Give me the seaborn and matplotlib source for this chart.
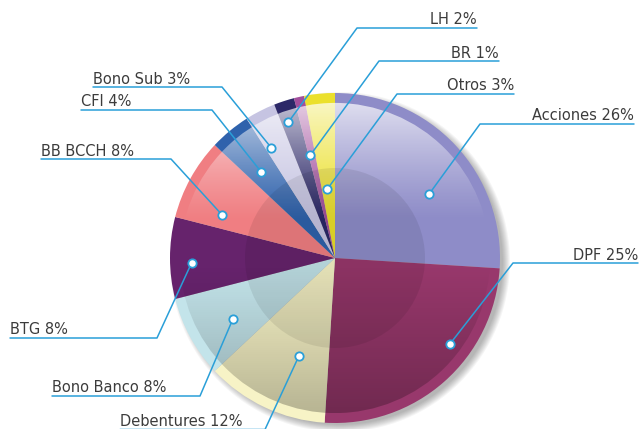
import numpy as np
import seaborn as sns
from matplotlib import pyplot as plt
from matplotlib.patches import Circle

# data
labels = ["Acciones", "DPF", "Debentures", "Bono Banco", "BTG", "BB BCCH",
          "CFI", "Bono Sub", "LH", "BR", "Otros"]
shares = [26, 25, 12, 8, 8, 8, 4, 3, 2, 1, 3]
colors = ["#8e8cc8", "#98386c", "#f7f3c6", "#c3e4ea", "#66236c", "#f07e82",
          "#2f62ac", "#c6c4e2", "#2c2868", "#a24e9c", "#ebe02c"]

# layout (image pixels): marker angle shift, marker radius fraction,
# underline y, underline start x, underline end x, text side
marker_shift = [-9, 12, 5, 2, 2, 8, 1, 3, 1, 1, 1]
marker_frac = [0.69, 0.87, 0.63, 0.72, 0.87, 0.73, 0.69, 0.77, 0.87, 0.64, 0.42]
line_y = [124, 263, 429.5, 396, 338, 159, 110, 87, 28, 61, 94]
line_x0 = [480, 513, 120, 52, 10, 41, 81, 93, 357, 379, 397]
line_x1 = [634, 638, 265, 200, 157, 171, 212, 222, 477, 499, 514]
side = ["r", "r", "l", "l", "l", "l", "l", "l", "r", "r", "r"]

W, H = 639, 429
cx, cy, R = 335, H - 258, 165
RIM = 0.94
BLUE = "#2a9fd8"

sns.set_theme(style="white")
plt.rcParams["font.family"] = ["DejaVu Sans"]

fig = plt.figure(figsize=(W / 100, H / 100), dpi=100)
ax = fig.add_axes([0, 0, 1, 1])

# soft shadow, mostly to the lower right
for k in range(8):
    ax.add_patch(Circle((cx + 5, cy - 4), R - 2 + k * 1.0, color="black",
                        alpha=0.04, lw=0, zorder=0))

wedges, _ = ax.pie(shares, colors=colors, startangle=90, counterclock=False,
                   radius=R, center=(cx, cy), frame=True,
                   wedgeprops=dict(lw=0, zorder=1))

# gloss / shade on the inner face
ri = R * RIM
n = 400
yy = np.linspace(cy + ri, cy - ri, n)[:, None] * np.ones((1, n))
white_a = 0.72 * np.clip((yy - (cy + 0.22 * R)) / (0.72 * R), 0, 1) ** 1.2
dark_a = 0.26 * np.clip(((cy - 0.05 * R) - yy) / (0.89 * R), 0, 1)
img = np.zeros((n, n, 4))
img[..., :3] = 1.0
img[..., 3] = white_a
im = ax.imshow(img, extent=(cx - ri, cx + ri, cy - ri, cy + ri), zorder=2,
               interpolation="bilinear")
im.set_clip_path(Circle((cx, cy), ri, transform=ax.transData))
img2 = np.zeros((n, n, 4))
img2[..., 3] = dark_a
im2 = ax.imshow(img2, extent=(cx - ri, cx + ri, cy - ri, cy + ri), zorder=2,
                interpolation="bilinear")
im2.set_clip_path(Circle((cx, cy), ri, transform=ax.transData))
ax.add_patch(Circle((cx, cy), 90, color="black", alpha=0.08, lw=0, zorder=3))

# leader lines, markers and labels
for w, lab, val, sh, fr, ly, x0, x1, sd in zip(
        wedges, labels, shares, marker_shift, marker_frac,
        line_y, line_x0, line_x1, side):
    ang = np.deg2rad((w.theta1 + w.theta2) / 2 + sh)
    mx = cx + fr * R * np.cos(ang)
    my = cy + fr * R * np.sin(ang)
    ey = H - ly
    if sd == "r":
        ax.plot([mx, x0, x1], [my, ey, ey], color=BLUE, lw=1.1, zorder=4)
        ax.text(x1, ey + 3.5, f"{lab} {val}%", ha="right", va="baseline",
                fontsize=10.5, color="#3c3c3c")
    else:
        ax.plot([mx, x1, x0], [my, ey, ey], color=BLUE, lw=1.1, zorder=4)
        ax.text(x0, ey + 3.5, f"{lab} {val}%", ha="left", va="baseline",
                fontsize=10.5, color="#3c3c3c")
    ax.plot(mx, my, "o", ms=6, mfc="white", mec=BLUE, mew=1.3, zorder=5)

ax.set_xlim(0, W)
ax.set_ylim(0, H)
ax.set_aspect("equal")
ax.axis("off")
plt.savefig("out.png", dpi=100)
